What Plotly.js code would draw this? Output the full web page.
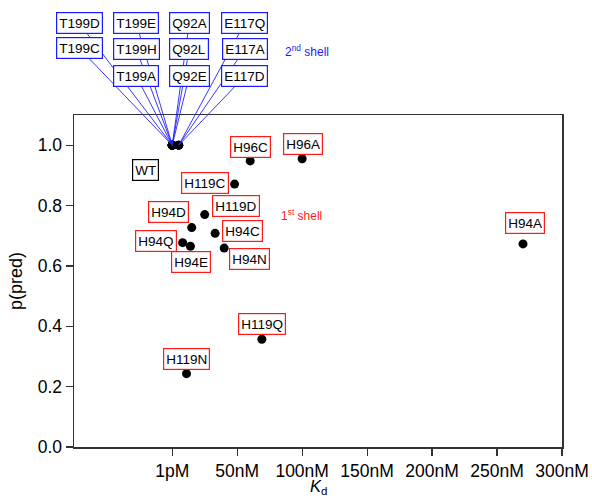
<!DOCTYPE html>
<html>
<head>
<meta charset="utf-8">
<script src="https://cdn.plot.ly/plotly-3.0.1.min.js"></script>
<style>html,body{margin:0;padding:0;background:#fff;}#chart{width:592px;height:501px;}</style>
</head>
<body>
<div id="chart"></div>
<script>
// ---- data ----
// 1st shell mutants (red labels)
const shell1Names = ["H96C","H96A","H119C","H119D","H94D","H94C","H94Q","H94E","H94N","H119Q","H119N","H94A"];
const shell1Kd    = [60, 100, 48, 25, 15, 33, 8, 14, 40, 69, 11, 270];
const shell1P     = [0.948, 0.955, 0.871, 0.770, 0.727, 0.708, 0.677, 0.665, 0.659, 0.357, 0.243, 0.673];
// 2nd shell mutants (blue labels)
const shell2Names = ["T199D","T199E","Q92A","E117Q","T199C","T199H","Q92L","E117A","T199A","Q92E","E117D"];
const shell2Kd    = [0.001, 0.001, 0.001, 5, 0.001, 0.001, 0.001, 5, 0.001, 0.001, 5];
const shell2P     = [1.0, 1.0, 1.0, 1.0, 1.0, 1.0, 1.0, 1.0, 1.0, 1.0, 1.0];
// wild type
const wtName = "WT";
const wtKd = 0.001;
const wtP = 1.0;
// axis ticks
const xTickVals = [0.001, 50, 100, 150, 200, 250, 300];
const xTickText = ["1pM","50nM","100nM","150nM","200nM","250nM","300nM"];
const yTickVals = [0, 0.2, 0.4, 0.6, 0.8, 1.0];

// ---- label placement (pixel offsets of label centres from their point) ----
const shell1Offsets = [[0,14],[1,15],[-30,1],[31,9],[-23,16],[27,2],[-27,2],[1,-16],[25,-11],[0,15],[0,15],[2,21]];
const shell2Offsets = [[-93,-122],[-36,-122],[17,-122],[66,-122],
                       [-93,-97],[-36,-96],[17,-96],[66,-96],
                       [-36,-69],[17,-69],[66,-69]];

const FONT = "Liberation Sans, Arial, Helvetica, sans-serif";

const allX = [wtKd].concat(shell2Kd, shell1Kd);
const allY = [wtP].concat(shell2P, shell1P);

const trace = {
  x: allX, y: allY, type: "scatter", mode: "markers",
  marker: {color: "#000", size: 9},
  hoverinfo: "skip", cliponaxis: false
};

const LABEL_FONT = {family: FONT, size: 13.5, color: "#000"};
const annotations = [];
// 2nd shell labels with connecting lines (top row first so lower boxes cover lines)
shell2Names.forEach((n, i) => {
  annotations.push({
    x: shell2Kd[i], y: shell2P[i], xref: "x", yref: "y",
    text: n, showarrow: true, arrowhead: 0, arrowwidth: 0.9, arrowcolor: "#2020ff",
    ax: shell2Offsets[i][0], ay: shell2Offsets[i][1], standoff: 0, startstandoff: 0,
    font: LABEL_FONT,
    bgcolor: "#fff", bordercolor: "#1a1aff", borderwidth: 1.2, borderpad: 2, height: 16
  });
});
// WT label
annotations.push({
  x: wtKd, y: wtP, xref: "x", yref: "y", text: wtName, showarrow: false,
  xshift: -27, yshift: -25, xanchor: "center", yanchor: "middle",
  font: LABEL_FONT,
  bgcolor: "#fff", bordercolor: "#000", borderwidth: 1.2, borderpad: 2, height: 16
});
// 1st shell labels
shell1Names.forEach((n, i) => {
  annotations.push({
    x: shell1Kd[i], y: shell1P[i], xref: "x", yref: "y", text: n, showarrow: false,
    xshift: shell1Offsets[i][0], yshift: shell1Offsets[i][1], xanchor: "center", yanchor: "middle",
    font: LABEL_FONT,
    bgcolor: "#fff", bordercolor: "#ff1a1a", borderwidth: 1.2, borderpad: 2, height: 16
  });
});
// group captions
annotations.push({
  x: 0.4655, y: 0.698, xref: "paper", yref: "paper", text: "1<sup>st</sup> shell", showarrow: false,
  xanchor: "center", yanchor: "middle", font: {family: FONT, size: 12, color: "#ff1a1a"}
});
annotations.push({
  x: 0.4775, y: 1.194, xref: "paper", yref: "paper", text: "2<sup>nd</sup> shell", showarrow: false,
  xanchor: "center", yanchor: "middle", font: {family: FONT, size: 12, color: "#1a1aff"}
});
// x-axis title
annotations.push({
  x: 0.5, y: -0.12, xref: "paper", yref: "paper", text: "<i>K</i><sub>d</sub>", showarrow: false,
  xanchor: "center", yanchor: "middle", font: {family: FONT, size: 16.5, color: "#000"}
});

const axisCommon = {
  showgrid: false, zeroline: false, showline: true, mirror: true,
  linecolor: "#333", linewidth: 1.5, ticks: "outside", ticklen: 7, tickwidth: 1.2, tickcolor: "#333",
  tickfont: {family: FONT, size: 17.5, color: "#000"}
};

const layout = {
  width: 592, height: 501,
  margin: {l: 74, r: 30, t: 115, b: 54, pad: 0},
  paper_bgcolor: "#fff", plot_bgcolor: "#fff",
  showlegend: false,
  font: {family: FONT},
  xaxis: Object.assign({}, axisCommon, {
    range: [-75.6, 300], tickmode: "array", tickvals: xTickVals, ticktext: xTickText
  }),
  yaxis: Object.assign({}, axisCommon, {
    range: [0, 1.1], tickmode: "array", tickvals: yTickVals, tickformat: ".1f",
    title: {text: "p(pred)", font: {family: FONT, size: 18, color: "#000"}, standoff: 10}
  }),
  annotations: annotations
};

Plotly.newPlot("chart", [trace], layout, {staticPlot: true, displayModeBar: false});
</script>
</body>
</html>
